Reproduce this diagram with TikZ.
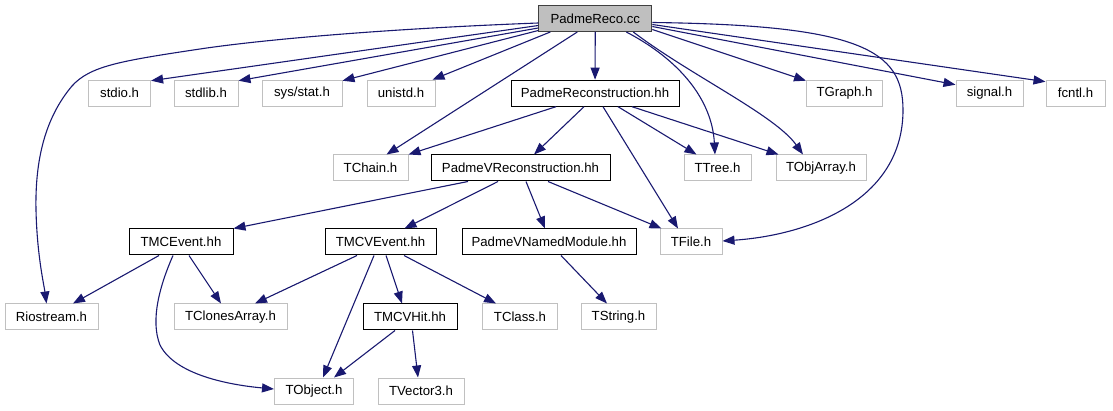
\documentclass[tikz,border=0pt]{standalone}
\usepackage{fontspec}
\setmainfont{Liberation Sans}
\usetikzlibrary{arrows.meta}
\definecolor{edgec}{HTML}{191970}
\definecolor{extc}{HTML}{C0C0C0}
\definecolor{rootfill}{HTML}{BFBFBF}
\begin{document}
\begin{tikzpicture}[x=1pt,y=-1pt,
  box/.style={draw, rectangle, minimum height=26pt, inner sep=0pt, line width=1pt, font=\fontsize{13.2}{15}\selectfont, text=black},
  ext/.style={box, draw=extc},
  doc/.style={box, draw=black},
  root/.style={box, draw=black!75, fill=rootfill},
  edge/.style={draw=edgec, line width=1.1pt, -{Triangle[length=12pt,width=9pt]}},
]
\useasboundingbox (0,0) rectangle (1113,411);
% row 0
\node[root, minimum width=113pt] (pr) at (595.3,18.5) {PadmeReco.cc};
% row 1
\node[ext, minimum width=62pt] (stdio) at (119.6,93.2) {stdio.h};
\node[ext, minimum width=64pt] (stdlib) at (206,93.2) {stdlib.h};
\node[ext, minimum width=80pt] (sysstat) at (302,93.2) {sys/stat.h};
\node[ext, minimum width=68pt] (unistd) at (401,93.2) {unistd.h};
\node[doc, minimum width=168pt] (prh) at (595,93.2) {PadmeReconstruction.hh};
\node[ext, minimum width=76pt] (tgraph) at (844.5,93.2) {TGraph.h};
\node[ext, minimum width=67pt] (signal) at (989.5,93.2) {signal.h};
\node[ext, minimum width=59pt] (fcntl) at (1075.5,93.2) {fcntl.h};
% row 2
\node[ext, minimum width=75pt] (tchain) at (370.5,168) {TChain.h};
\node[doc, minimum width=179pt] (pvr) at (520.5,168) {PadmeVReconstruction.hh};
\node[ext, minimum width=67pt] (ttree) at (717.5,168) {TTree.h};
\node[ext, minimum width=90pt] (tobjarray) at (821,168) {TObjArray.h};
% row 3
\node[doc, minimum width=104pt] (tmcevent) at (181,242) {TMCEvent.hh};
\node[doc, minimum width=111pt] (tmcvevent) at (380.5,242) {TMCVEvent.hh};
\node[doc, minimum width=174pt] (pvnm) at (549,242) {PadmeVNamedModule.hh};
\node[ext, minimum width=62pt] (tfile) at (691,242) {TFile.h};
% row 4
\node[ext, minimum width=93pt] (riostream) at (51.5,317) {Riostream.h};
\node[ext, minimum width=113pt] (tclones) at (230.5,317) {TClonesArray.h};
\node[doc, minimum width=94pt] (tmcvhit) at (410,317) {TMCVHit.hh};
\node[ext, minimum width=75pt] (tclass) at (520,317) {TClass.h};
\node[ext, minimum width=75pt] (tstring) at (618.5,317) {TString.h};
% row 5
\node[ext, minimum width=79pt] (tobject) at (314,391) {TObject.h};
\node[ext, minimum width=86pt] (tvector3) at (421,391) {TVector3.h};

% edges from PadmeReco.cc
\draw[edge] ([yshift=-4.5pt]pr.west) .. controls (380,29) and (260,40) .. (200,49)
   .. controls (120,61) and (90,66) .. (72,86)
   .. controls (45,118) and (35,160) .. (36,210)
   .. controls (37,255) and (44,285) .. ([xshift=-5pt]riostream.north);
\draw[edge] ([yshift=-7pt]pr.west) -- ([yshift=-1pt]stdio.north east);
\draw[edge] ([yshift=-9.5pt]pr.west) -- ([yshift=-1pt]stdlib.north east);
\draw[edge] ([yshift=-12pt]pr.west) -- ([yshift=-1pt]sysstat.north east);
\draw[edge] ([xshift=-45pt]pr.south) -- ([xshift=-3pt]unistd.north east);
\draw[edge] (pr) -- (prh);
\draw[edge] ([xshift=-18pt]pr.south) -- ([xshift=16pt]tchain.north);
\draw[edge] ([xshift=31pt]pr.south) .. controls (680,60) and (712,100) .. ([xshift=-2.5pt]ttree.north);
\draw[edge] ([xshift=38pt]pr.south) .. controls (690,75) and (775,115) .. ([xshift=-18pt]tobjarray.north);
\draw[edge] ([yshift=-11pt]pr.east) -- ([yshift=-1pt]tgraph.north west);
\draw[edge] ([yshift=-8pt]pr.east) -- ([yshift=-5pt]signal.north west);
\draw[edge] ([yshift=-6pt]pr.east) -- ([yshift=-2pt]fcntl.north west);
\draw[edge] ([yshift=-4pt]pr.east) .. controls (860,25) and (903,50) .. (903,110)
   .. controls (903,200) and (810,235) .. ([yshift=1pt]tfile.east);

% edges from PadmeReconstruction.hh
\draw[edge] ([xshift=-39pt]prh.south) -- (tchain.north east);
\draw[edge] ([xshift=-11pt]prh.south) -- ([xshift=13.5pt]pvr.north);
\draw[edge] ([xshift=23pt]prh.south) -- ([xshift=-21pt]ttree.north);
\draw[edge] ([xshift=37pt]prh.south) -- ([xshift=3pt]tobjarray.north west);
\draw[edge] ([xshift=8pt]prh.south) -- ([xshift=-13pt]tfile.north);

% edges from PadmeVReconstruction.hh
\draw[edge] ([xshift=-52.5pt]pvr.south) -- (tmcevent.north east);
\draw[edge] ([xshift=-22.5pt]pvr.south) -- ([xshift=24pt]tmcvevent.north);
\draw[edge] ([xshift=5.5pt]pvr.south) -- ([xshift=-4pt]pvnm.north);
\draw[edge] ([xshift=27.5pt]pvr.south) -- ([xshift=2pt]tfile.north west);

% edges from TMCEvent.hh
\draw[edge] ([xshift=-22pt]tmcevent.south) -- ([xshift=21.5pt]riostream.north);
\draw[edge] ([xshift=8pt]tmcevent.south) -- ([xshift=-9.5pt]tclones.north);
\draw[edge] ([xshift=-8pt]tmcevent.south) .. controls (160,285) and (150,320) .. (160,345)
   .. controls (175,375) and (230,385) .. ([yshift=2pt]tobject.west);

% edges from TMCVEvent.hh
\draw[edge] ([xshift=-23.5pt]tmcvevent.south) -- ([xshift=24.5pt]tclones.north);
\draw[edge] ([xshift=-6.5pt]tmcvevent.south) -- ([xshift=9pt]tobject.north);
\draw[edge] ([xshift=5.5pt]tmcvevent.south) -- ([xshift=-8pt]tmcvhit.north);
\draw[edge] ([xshift=23.5pt]tmcvevent.south) -- ([xshift=-24pt]tclass.north);

% edges from TMCVHit.hh
\draw[edge] ([xshift=-15pt]tmcvhit.south) -- ([xshift=20pt]tobject.north);
\draw[edge] ([xshift=2.5pt]tmcvhit.south) -- ([xshift=-3pt]tvector3.north);

% edge from PadmeVNamedModule.hh
\draw[edge] ([xshift=12pt]pvnm.south) -- ([xshift=-11.5pt]tstring.north);
\end{tikzpicture}
\end{document}
